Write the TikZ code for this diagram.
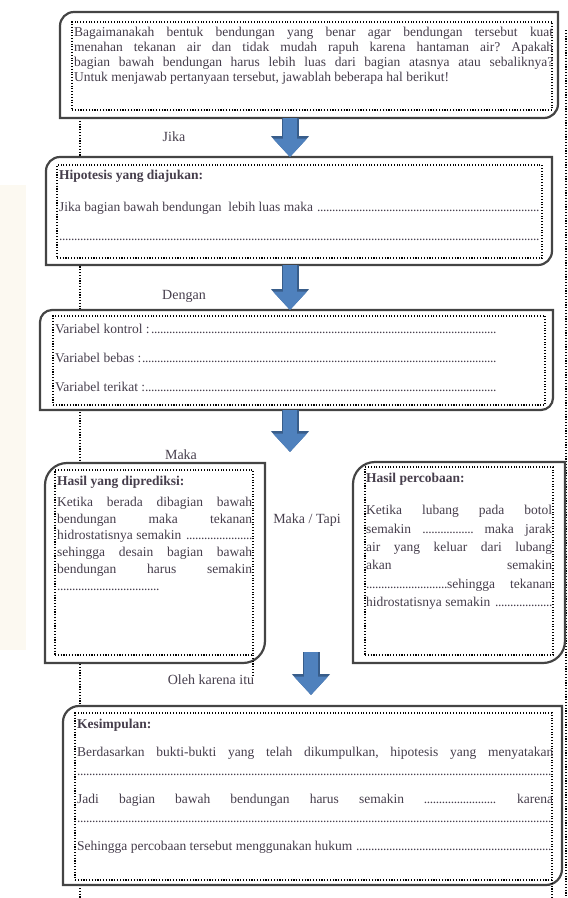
\documentclass[tikz,border=0pt]{standalone}
\usepackage{fontspec}
\setmainfont{Liberation Serif}
\usetikzlibrary{positioning,arrows.meta}
\frenchspacing

\definecolor{inkgray}{RGB}{70,62,76}
\definecolor{framegray}{RGB}{68,68,68}
\definecolor{arrowblue}{RGB}{79,129,189}
\definecolor{arrowedge}{RGB}{56,93,138}
\definecolor{wmark}{RGB}{252,249,241}

\newcommand{\isian}{\leavevmode\null\leaders\hbox to 3pt{\hss.\hss}\hfill\null}
\newcommand{\titik}[1]{\hbox to #1{\leaders\hbox to 3pt{\hss.\hss}\hfill}}
\newcommand{\diagframe}[2]{%
  \draw[outerframe] (#1.south west) -- ([yshift=-#2]#1.north west)
    arc[start angle=180,end angle=90,radius=#2] -- (#1.north east)
    -- ([yshift=#2]#1.south east)
    arc[start angle=0,end angle=-90,radius=#2] -- cycle;}

\tikzset{
  outerframe/.style={draw=framegray, line width=2.2pt, fill=white},
  framebox/.style={inner sep=0pt, outer sep=0pt, anchor=north west},
  dotbox/.style={draw=black, line width=1.1pt, dash pattern=on 1.1pt off 1.7pt,
    inner sep=0pt, outer sep=0pt, anchor=north west},
  pageline/.style={draw=black, line width=1.1pt, dash pattern=on 1.1pt off 1.7pt},
  boxtext/.style={inner sep=0pt, align=justify, text=inkgray},
  steplabel/.style={text=inkgray, font=\fontsize{14}{16}\selectfont},
  blockarrow/.style={preaction={draw=arrowedge, line width=17pt,
      -{Triangle[width=37pt,length=21pt]}},
    draw=arrowblue, line width=14pt, -{Triangle[width=33pt,length=18.5pt]}}
}

\begin{document}
\begin{tikzpicture}[x=1pt,y=1pt]
  \useasboundingbox (0,0) rectangle (568,-898);
  \fill[wmark] (0,-185) rectangle (26,-650);

  \node[framebox, minimum width=498pt, minimum height=106pt] (qf) at (60,-12) {};
  \node[framebox, minimum width=506pt, minimum height=108pt] (hypf) at (46,-157) {};
  \node[framebox, minimum width=513pt, minimum height=100pt] (varf) at (40,-310) {};
  \node[framebox, minimum width=220pt, minimum height=200pt] (predf) at (45,-463) {};
  \node[framebox, minimum width=212pt, minimum height=201pt] (resf) at (353,-462) {};
  \node[framebox, minimum width=499pt, minimum height=179pt] (conclf) at (63,-706) {};

  \coordinate (lx) at (80,0);
  \coordinate (rx) at (566,0);
  \coordinate (ax) at (290,0);
  \coordinate (bx) at (311,0);
  \coordinate (pagetop) at (0,-30);
  \coordinate (pagebot) at (0,-898);

  \draw[pageline] (qf.south -| lx) -- (pagebot -| lx);
  \draw[pageline] (pagetop -| rx) -- (pagebot -| rx);

  \diagframe{qf}{14pt}
  \diagframe{hypf}{14pt}
  \diagframe{varf}{12pt}
  \diagframe{predf}{22pt}
  \diagframe{resf}{22pt}
  \diagframe{conclf}{16pt}

  \node[dotbox, minimum width=480pt, minimum height=88pt] (q) at (72,-22) {};
  \node[dotbox, minimum width=485pt, minimum height=93pt] (hyp) at (57,-165) {};
  \node[dotbox, minimum width=492pt, minimum height=89pt] (var) at (53,-316) {};
  \node[dotbox, minimum width=198pt, minimum height=185pt] (pred) at (55,-470) {};
  \node[dotbox, minimum width=188pt, minimum height=188pt] (res) at (365,-467) {};
  \node[dotbox, minimum width=477pt, minimum height=167pt] (concl) at (75,-713) {};
  \draw[pageline] (pred.south east) -- ++(0,-22);
  \draw[pageline] (concl.south east) -- (pagebot -| concl.south east);

  \node[boxtext, text width=479pt, font=\fontsize{13.5}{15}\selectfont,
    below right=5pt and 2pt of q.north west] (qtext)
    {Bagaimanakah bentuk bendungan yang benar agar bendungan tersebut kuat\linebreak
     menahan tekanan air dan tidak mudah rapuh karena hantaman air? Apakah\linebreak
     bagian bawah bendungan harus lebih luas dari bagian atasnya atau sebaliknya?\linebreak
     Untuk menjawab pertanyaan tersebut, jawablah beberapa hal berikut!};

  \node[boxtext, text width=482pt, font=\fontsize{13.5}{29}\selectfont,
    below right=5pt and 2pt of hyp.north west] (hyptext)
    {\textbf{Hipotesis yang diajukan:}\\[3pt]
     Jika bagian bawah bendungan\ \ lebih luas maka \isian\\
     \isian};

  \node[boxtext, text width=441pt, font=\fontsize{13.5}{29}\selectfont,
    below right=8pt and 2pt of var.north west] (vartext)
    {Variabel kontrol :\isian\\
     Variabel bebas :\isian\\
     Variabel terikat :\isian};

  \node[boxtext, text width=195pt, font=\fontsize{13.5}{16.8}\selectfont,
    below right=6pt and 2pt of pred.north west] (predtext)
    {\textbf{Hasil yang diprediksi:}\\[4pt]
     Ketika berada dibagian bawah\linebreak
     bendungan maka tekanan\linebreak
     hidrostatisnya semakin \isian\linebreak
     sehingga desain bagian bawah\linebreak
     bendungan harus semakin\linebreak
     \titik{102pt}};

  \node[boxtext, text width=186pt, font=\fontsize{13.5}{18.3}\selectfont,
    below right=6pt and 1pt of res.north west] (restext)
    {\textbf{Hasil percobaan:}\\[14pt]
     Ketika lubang pada botol\linebreak
     semakin \titik{51pt} maka jarak\linebreak
     air yang keluar dari lubang\linebreak
     akan semakin\linebreak
     \titik{81pt}sehingga tekanan\linebreak
     hidrostatisnya semakin \isian};

  \node[boxtext, text width=476pt, font=\fontsize{13.5}{19}\selectfont,
    below right=6pt and 2pt of concl.north west] (concltext)
    {\textbf{Kesimpulan:}\\[9pt]
     Berdasarkan bukti-bukti yang telah dikumpulkan, hipotesis yang menyatakan\linebreak
     \isian\\[9pt]
     Jadi bagian bawah bendungan harus semakin \titik{73pt} karena\linebreak
     \isian\\[9pt]
     Sehingga percobaan tersebut menggunakan hukum \isian};

  \draw[blockarrow] (qf.south -| ax) -- (hypf.north -| ax);
  \draw[blockarrow] (hypf.south -| ax) -- (varf.north -| ax);
  \draw[blockarrow] (varf.south -| ax) -- ([yshift=11pt]predf.north -| ax);
  \draw[blockarrow] ([yshift=11pt]predf.south -| bx) -- ([yshift=11pt]conclf.north -| bx);

  \node[steplabel] (jika) at (174,-137) {Jika};
  \node[steplabel] (dengan) at (184,-296) {Dengan};
  \node[steplabel] (maka) at (181,-455) {Maka};
  \node[steplabel] (makatapi) at (307,-520) {Maka / Tapi};
  \node[steplabel] (oleh) at (211,-680) {Oleh karena itu};
\end{tikzpicture}
\end{document}
